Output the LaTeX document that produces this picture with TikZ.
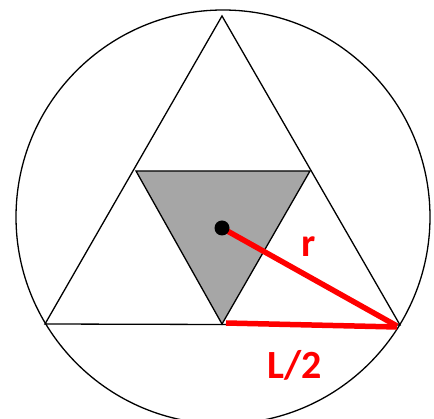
\documentclass[tikz,border=0pt]{standalone}
\usepackage{fontspec}
\setmainfont{Carlito}
\begin{document}
\begin{tikzpicture}[x=1pt,y=-1pt,
  thin line/.style={draw=black,line width=1.3pt},
  redline/.style={draw=red,line width=5.5pt},
  lbl/.style={text=red,font=\bfseries\fontsize{40}{42}\selectfont,inner sep=0pt}]
\useasboundingbox (0,0) rectangle (434,419);
\coordinate (A) at (222,16);
\coordinate (B) at (45,324);
\coordinate (C) at (400,325);
\coordinate (P) at (136,171);
\coordinate (Q) at (310,171);
\coordinate (R) at (222,324);
\coordinate (O) at (222,228);
\draw[thin line] (223,217) circle (207);
\fill[fill={rgb,255:red,166;green,166;blue,166}] (P) -- (Q) -- (R) -- cycle;
\draw[thin line, line join=miter] (A) -- (B) -- (C) -- cycle;
\draw[thin line] (P) -- (Q) -- (R) -- cycle;
\draw[redline] (O) -- (397,326);
\draw[redline] (226,323) -- (397,327);
\fill[black] (O) circle (7.5);
\node[lbl] (r) at (309,247) {r};
\node[lbl] (L) at (295,365) {L/2};
\end{tikzpicture}
\end{document}
